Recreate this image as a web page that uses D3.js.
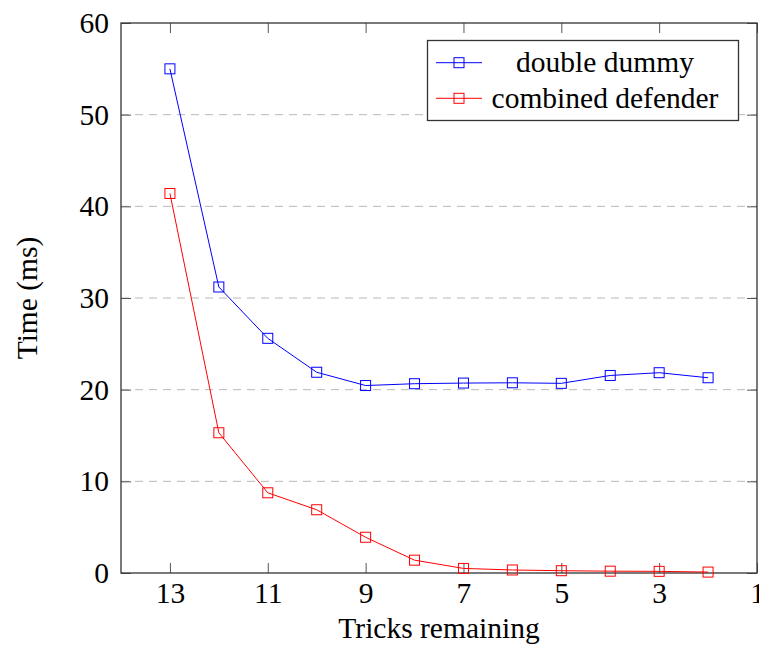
<!DOCTYPE html>
<html>
<head>
<style>
  body {
    margin: 0;
    background-color: #ffffff;
  }

  .chart text {
    font-family: "Liberation Serif", "Times New Roman", serif;
    fill: #000;
  }

  .tick text {
    font-size: 29.5px;
  }
</style>
  <script src="https://d3js.org/d3.v7.min.js"></script>
</head>
<body>
<script>
// tricks remaining vs solve time
const tricks = [13, 12, 11, 10, 9, 8, 7, 6, 5, 4, 3, 2];
const doubleDummy = [55.0, 31.2, 25.6, 21.9, 20.45, 20.65, 20.72, 20.75, 20.69, 21.55, 21.85, 21.3];
const combinedDefender = [41.4, 15.3, 8.75, 6.9, 3.9, 1.4, 0.5, 0.33, 0.25, 0.2, 0.18, 0.1];
const xTicks = [13, 11, 9, 7, 5, 3, 1];
const yTicks = [0, 10, 20, 30, 40, 50, 60];

const series = [
  { name: 'double dummy', values: doubleDummy, color: '#0000ff' },
  { name: 'combined defender', values: combinedDefender, color: '#ff0000' },
];

const width = 759;
const height = 647;
const margin = { top: 23, right: 2, bottom: 74, left: 121 };
const fontSize = 29.5;

const svg = d3.select('body')
  .append('svg')
  .attr('class', 'chart')
  .attr('width', width)
  .attr('height', height);

const x = d3.scaleLinear()
  .domain([14, 1])
  .range([margin.left, width - margin.right]);

const y = d3.scaleLinear()
  .domain([0, 60])
  .range([height - margin.bottom, margin.top]);

// dashed horizontal grid
svg.append('g')
  .selectAll('line')
  .data(yTicks.slice(1, -1))
  .join('line')
  .attr('x1', x.range()[0])
  .attr('x2', x.range()[1])
  .attr('y1', d => y(d))
  .attr('y2', d => y(d))
  .attr('stroke', '#b8b8b8')
  .attr('stroke-width', 1)
  .attr('stroke-dasharray', '8,6');

const tickLen = 10;

// bottom axis with labels
const xAxis = svg.append('g')
  .attr('transform', `translate(0,${y(0)})`)
  .call(d3.axisBottom(x).tickValues(xTicks).tickSizeInner(-tickLen).tickSizeOuter(0).tickPadding(9));

// top axis, ticks only
const xTop = svg.append('g')
  .attr('transform', `translate(0,${y(60)})`)
  .call(d3.axisTop(x).tickValues(xTicks).tickSizeInner(-tickLen).tickSizeOuter(0).tickFormat(''));

// left axis with labels
const yAxis = svg.append('g')
  .attr('transform', `translate(${x(14)},0)`)
  .call(d3.axisLeft(y).tickValues(yTicks).tickSizeInner(-tickLen).tickSizeOuter(0).tickPadding(12));

// right axis, ticks only
const yRight = svg.append('g')
  .attr('transform', `translate(${x(1)},0)`)
  .call(d3.axisRight(y).tickValues(yTicks).tickSizeInner(-tickLen).tickSizeOuter(0).tickFormat(''));

[xAxis, xTop, yAxis, yRight].forEach(g => {
  g.select('.domain').remove();
  g.selectAll('.tick line').attr('stroke', '#555').attr('stroke-width', 1);
  g.selectAll('.tick text').attr('font-family', null).attr('font-size', null);
});

// frame
svg.append('rect')
  .attr('x', x(14))
  .attr('y', y(60))
  .attr('width', x(1) - x(14))
  .attr('height', y(0) - y(60))
  .attr('fill', 'none')
  .attr('stroke', '#333')
  .attr('stroke-width', 1.3);

const line = d3.line()
  .x((d, i) => x(tricks[i]))
  .y(d => y(d));

const markSize = 10;

series.forEach(s => {
  svg.append('path')
    .datum(s.values)
    .attr('fill', 'none')
    .attr('stroke', s.color)
    .attr('stroke-width', 1)
    .attr('d', line);

  svg.append('g')
    .selectAll('rect')
    .data(s.values)
    .join('rect')
    .attr('x', (d, i) => x(tricks[i]) - markSize / 2)
    .attr('y', d => y(d) - markSize / 2)
    .attr('width', markSize)
    .attr('height', markSize)
    .attr('fill', 'none')
    .attr('stroke', s.color)
    .attr('stroke-width', 1);
});

// axis titles
svg.append('text')
  .attr('x', (x(14) + x(1)) / 2)
  .attr('y', 638)
  .attr('text-anchor', 'middle')
  .attr('font-size', fontSize)
  .text('Tricks remaining');

svg.append('text')
  .attr('transform', `translate(37,${(y(0) + y(60)) / 2}) rotate(-90)`)
  .attr('text-anchor', 'middle')
  .attr('font-size', fontSize)
  .text('Time (ms)');

// legend
const legend = svg.append('g');
legend.append('rect')
  .attr('x', 427.5)
  .attr('y', 40.5)
  .attr('width', 311)
  .attr('height', 80)
  .attr('fill', '#fff')
  .attr('stroke', '#333')
  .attr('stroke-width', 1.3);

const rows = legend.selectAll('g.row')
  .data(series)
  .join('g')
  .attr('class', 'row')
  .attr('transform', (d, i) => `translate(0,${62.7 + i * 35.6})`);

rows.append('line')
  .attr('x1', 436)
  .attr('x2', 482)
  .attr('stroke', d => d.color)
  .attr('stroke-width', 1);

rows.append('rect')
  .attr('x', 459 - markSize / 2)
  .attr('y', -markSize / 2)
  .attr('width', markSize)
  .attr('height', markSize)
  .attr('fill', 'none')
  .attr('stroke', d => d.color)
  .attr('stroke-width', 1);

rows.append('text')
  .attr('x', 605)
  .attr('dy', '0.33em')
  .attr('text-anchor', 'middle')
  .attr('font-size', fontSize)
  .text(d => d.name);
</script>
</body>
</html>
